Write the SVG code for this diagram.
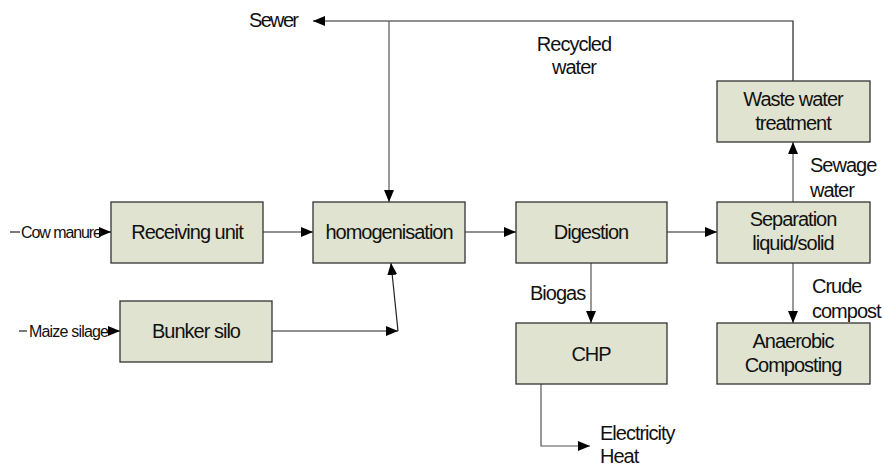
<svg xmlns="http://www.w3.org/2000/svg" width="883" height="471" viewBox="0 0 883 471">
<style>
.box{fill:#dfe3cf;stroke:#333;stroke-width:1.3}
.t{font-family:"Liberation Sans",Arial,sans-serif;font-size:20px;letter-spacing:-1px;fill:#111;text-anchor:middle}
.l{font-family:"Liberation Sans",Arial,sans-serif;font-size:20px;letter-spacing:-1px;fill:#111}
.s{font-family:"Liberation Sans",Arial,sans-serif;font-size:16px;letter-spacing:-1px;fill:#111}
.c{fill:none;stroke:#222;stroke-width:1.2}
.g{fill:none;stroke:#555;stroke-width:1.2}
</style>
<defs>
<marker id="ah" viewBox="0 0 12 10" refX="12" refY="5" markerWidth="12" markerHeight="10" markerUnits="userSpaceOnUse" orient="auto">
<path d="M0,0 L12,5 L0,10 Z" fill="#000"/>
</marker>
</defs>
<rect width="883" height="471" fill="#fff"/>
<g id="connectors">
<path class="c" d="M10,232 H20"/>
<path class="c" d="M99,232 H111" marker-end="url(#ah)"/>
<path class="c" d="M19,331 H27"/>
<path class="c" d="M108,331 H120" marker-end="url(#ah)"/>
<path class="c" d="M263,232 H313" marker-end="url(#ah)"/>
<path class="c" d="M465,232 H516" marker-end="url(#ah)"/>
<path class="c" d="M667,232 H717" marker-end="url(#ah)"/>
<path class="c" d="M272,331 H398" marker-end="url(#ah)"/>
<path class="c" d="M398,331 L391,263" marker-end="url(#ah)"/>
<path class="c" d="M793,81 V21 H313" marker-end="url(#ah)"/>
<path class="g" d="M389,21 V202" marker-end="url(#ah)"/>
<path class="g" d="M793,202 V142" marker-end="url(#ah)"/>
<path class="g" d="M793,263 V323" marker-end="url(#ah)"/>
<path class="g" d="M591,263 V323" marker-end="url(#ah)"/>
<path class="g" d="M541,384 V446 H590" marker-end="url(#ah)"/>
</g>
<g id="labels">
<text class="s" x="21" y="238" textLength="80">Cow manure</text>
<text class="s" x="29" y="337" textLength="79">Maize silage</text>
<text class="l" x="249" y="27" textLength="49">Sewer</text>
<text class="t" x="574" y="51">Recycled</text>
<text class="t" x="574" y="74">water</text>
<text class="l" x="810" y="172">Sewage</text>
<text class="l" x="810" y="197">water</text>
<text class="l" x="812" y="293">Crude</text>
<text class="l" x="812" y="318">compost</text>
<text class="l" x="530" y="300">Biogas</text>
<text class="l" x="600" y="440">Electricity</text>
<text class="l" x="600" y="463">Heat</text>
</g>
<g id="receiving">
<rect class="box" x="111" y="202" width="152" height="61"/>
<text class="t" x="187" y="239">Receiving unit</text>
</g>
<g id="bunker">
<rect class="box" x="120" y="301" width="152" height="61"/>
<text class="t" x="196" y="338">Bunker silo</text>
</g>
<g id="homogenisation">
<rect class="box" x="313" y="202" width="152" height="61"/>
<text class="t" x="389" y="239">homogenisation</text>
</g>
<g id="digestion">
<rect class="box" x="516" y="202" width="151" height="61"/>
<text class="t" x="591" y="239">Digestion</text>
</g>
<g id="chp">
<rect class="box" x="516" y="323" width="151" height="61"/>
<text class="t" x="591" y="361">CHP</text>
</g>
<g id="separation">
<rect class="box" x="717" y="202" width="153" height="61"/>
<text class="t" x="793" y="226">Separation</text>
<text class="t" x="793" y="250">liquid/solid</text>
</g>
<g id="wastewater">
<rect class="box" x="717" y="81" width="153" height="61"/>
<text class="t" x="793" y="106">Waste water</text>
<text class="t" x="793" y="130">treatment</text>
</g>
<g id="composting">
<rect class="box" x="717" y="323" width="153" height="61"/>
<text class="t" x="793" y="348">Anaerobic</text>
<text class="t" x="793" y="372">Composting</text>
</g>
</svg>
